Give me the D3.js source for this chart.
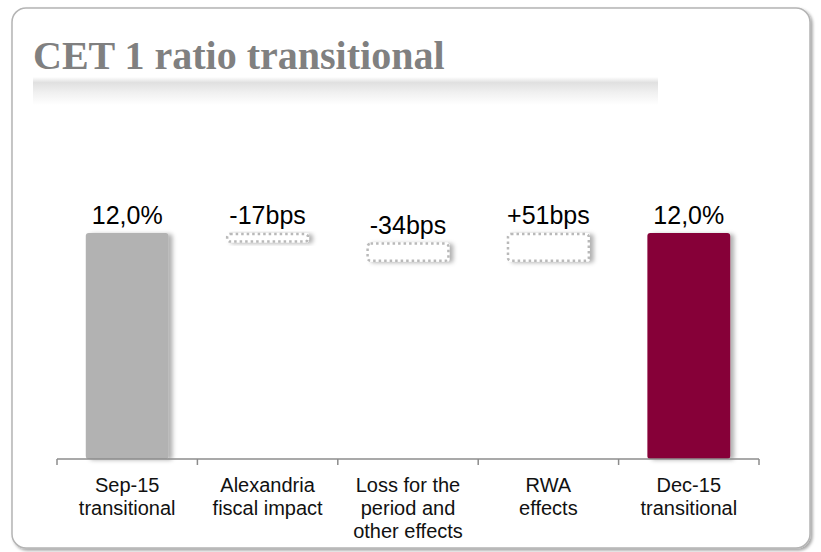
<!DOCTYPE html>
<html>
<head>
<meta charset="utf-8">
<script src="https://cdn.jsdelivr.net/npm/d3@7"></script>
<style>
  body { margin: 0; background: #fff; }
  svg { display: block; }
</style>
</head>
<body>
<div id="container"></div>
<script>
var totalWidth = 821,
    totalHeight = 552;

// data
var categories = ["Sep-15 transitional", "Alexandria fiscal impact", "Loss for the period and other effects", "RWA effects", "Dec-15 transitional"];
var categoryLines = [["Sep-15", "transitional"], ["Alexandria", "fiscal impact"], ["Loss for the", "period and", "other effects"], ["RWA", "effects"], ["Dec-15", "transitional"]];
var startValue = 12.0;           // %
var deltasBps = [-17, -34, 51];  // bps
var endValue = 12.0;             // %
var valueLabels = ["12,0%", "-17bps", "-34bps", "+51bps", "12,0%"];

// build waterfall steps
var steps = [];
steps.push({cat: categories[0], y0: 8, y1: startValue, type: "total", color: "#b2b2b2"});
var run = startValue;
deltasBps.forEach(function(d, i) {
  var next = run + d / 100;
  steps.push({cat: categories[i + 1], y0: Math.min(run, next), y1: Math.max(run, next), type: "delta"});
  run = next;
});
steps.push({cat: categories[4], y0: 8, y1: endValue, type: "total", color: "#860037"});

var xScale = d3.scaleBand()
               .domain(categories)
               .range([57, 759])
               .paddingInner(0.41)
               .paddingOuter(0.205);

var yScale = d3.scaleLinear()
               .domain([8, 12])
               .range([459, 233]);

var svg = d3.select("#container")
            .append("svg")
            .attr("width", totalWidth)
            .attr("height", totalHeight);

var defs = svg.append("defs");
var sh = defs.append("filter").attr("id", "barShadow")
  .attr("x", "-20%").attr("y", "-20%").attr("width", "150%").attr("height", "150%");
sh.append("feDropShadow").attr("dx", 4).attr("dy", 1).attr("stdDeviation", 2)
  .attr("flood-color", "#000").attr("flood-opacity", 0.3);

var psh = defs.append("filter").attr("id", "panelShadow")
  .attr("x", "-5%").attr("y", "-5%").attr("width", "110%").attr("height", "110%");
psh.append("feDropShadow").attr("dx", 2).attr("dy", 2).attr("stdDeviation", 1.5)
  .attr("flood-color", "#000").attr("flood-opacity", 0.35);

var grad = defs.append("linearGradient").attr("id", "titleBand")
  .attr("x1", 0).attr("y1", 0).attr("x2", 0).attr("y2", 1);
grad.append("stop").attr("offset", "0").attr("stop-color", "#ffffff");
grad.append("stop").attr("offset", "0.2").attr("stop-color", "#e0e0e0");
grad.append("stop").attr("offset", "0.55").attr("stop-color", "#f0f0f0");
grad.append("stop").attr("offset", "1").attr("stop-color", "#ffffff");

// panel
svg.append("rect")
   .attr("x", 12).attr("y", 8)
   .attr("width", 798).attr("height", 540)
   .attr("rx", 14)
   .attr("fill", "#fff")
   .attr("stroke", "#b4b4b4")
   .attr("stroke-width", 1.5)
   .attr("filter", "url(#panelShadow)");

// title
svg.append("rect")
   .attr("x", 33).attr("y", 77)
   .attr("width", 625).attr("height", 28)
   .attr("fill", "url(#titleBand)");

svg.append("text")
   .attr("x", 33).attr("y", 69)
   .attr("font-family", "Liberation Serif, Times New Roman, serif")
   .attr("font-weight", "bold")
   .attr("font-size", 40)
   .attr("fill", "#808080")
   .text("CET 1 ratio transitional");

var plot = svg.append("g");

// total bars
plot.selectAll(".bar")
    .data(steps.filter(function(d) { return d.type === "total"; }))
    .enter().append("rect")
    .attr("class", "bar")
    .attr("x", function(d) { return xScale(d.cat); })
    .attr("width", xScale.bandwidth())
    .attr("y", function(d) { return yScale(d.y1); })
    .attr("height", function(d) { return yScale(d.y0) - yScale(d.y1); })
    .attr("rx", 3)
    .attr("fill", function(d) { return d.color; })
    .attr("filter", "url(#barShadow)");

// delta boxes
var deltas = steps.filter(function(d) { return d.type === "delta"; });
plot.selectAll(".boxbg")
    .data(deltas)
    .enter().append("rect")
    .attr("class", "boxbg")
    .attr("x", function(d) { return xScale(d.cat); })
    .attr("width", xScale.bandwidth())
    .attr("y", function(d) { return yScale(d.y1); })
    .attr("height", function(d) { return yScale(d.y0) - yScale(d.y1); })
    .attr("rx", 3)
    .attr("fill", "#fff")
    .attr("filter", "url(#barShadow)");

plot.selectAll(".box")
    .data(deltas)
    .enter().append("rect")
    .attr("class", "box")
    .attr("x", function(d) { return xScale(d.cat) + 1; })
    .attr("width", xScale.bandwidth() - 2)
    .attr("y", function(d) { return yScale(d.y1) + 1; })
    .attr("height", function(d) { return yScale(d.y0) - yScale(d.y1) - 2; })
    .attr("rx", 3)
    .attr("fill", "none")
    .attr("stroke", "#b9b9b9")
    .attr("stroke-width", 2.5)
    .attr("stroke-dasharray", "2.5,3");

// value labels
plot.selectAll(".vlabel")
    .data(steps)
    .enter().append("text")
    .attr("class", "vlabel")
    .attr("x", function(d) { return xScale(d.cat) + xScale.bandwidth() / 2; })
    .attr("y", function(d) { return yScale(d.y1) - 9; })
    .attr("text-anchor", "middle")
    .attr("font-family", "Liberation Sans, Arial, sans-serif")
    .attr("font-size", 25)
    .attr("fill", "#000")
    .text(function(d, i) { return valueLabels[i]; });

// category axis
var axis = svg.append("g").attr("class", "x-axis");
var y0 = yScale(8);
var edges = categories.map(function(c) { return xScale(c) - xScale.step() * xScale.paddingInner() / 2; });
edges.push(xScale.range()[1]);
axis.append("line")
    .attr("x1", xScale.range()[0]).attr("x2", xScale.range()[1])
    .attr("y1", y0).attr("y2", y0)
    .attr("stroke", "#8c8c8c").attr("stroke-width", 1.5);
axis.selectAll(".tick")
    .data(edges)
    .enter().append("line")
    .attr("class", "tick")
    .attr("x1", function(d) { return d; }).attr("x2", function(d) { return d; })
    .attr("y1", y0).attr("y2", y0 + 6)
    .attr("stroke", "#8c8c8c").attr("stroke-width", 1.5);

var labels = axis.selectAll(".clabel")
    .data(categories)
    .enter().append("text")
    .attr("class", "clabel")
    .attr("text-anchor", "middle")
    .attr("font-family", "Liberation Sans, Arial, sans-serif")
    .attr("font-size", 20)
    .attr("fill", "#111");
labels.each(function(c, i) {
  var t = d3.select(this);
  var cx = xScale(c) + xScale.bandwidth() / 2;
  categoryLines[i].forEach(function(line, j) {
    t.append("tspan").attr("x", cx).attr("y", 492 + j * 23).text(line);
  });
});
</script>
</body>
</html>
